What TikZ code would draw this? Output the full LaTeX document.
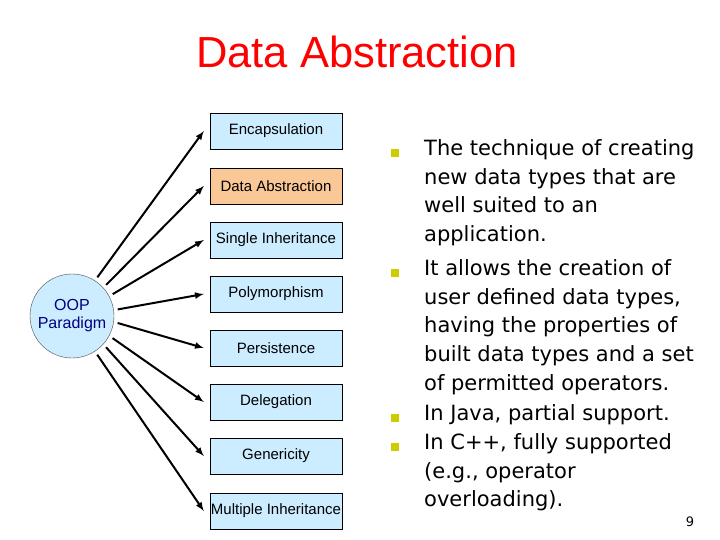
\documentclass[tikz,border=0pt]{standalone}
\usepackage{fontspec}
\setmainfont{Liberation Sans}
\newfontfamily\verd{DejaVu Sans}
\definecolor{bx}{RGB}{204,236,255}
\definecolor{og}{RGB}{250,200,150}
\definecolor{bul}{RGB}{204,204,0}
\begin{document}
\begin{tikzpicture}[x=1pt,y=-1pt,
  box/.style={draw=black,fill=bx,minimum width=132pt,minimum height=36pt,inner sep=0pt,font=\fontsize{15}{17}\selectfont},
  arr/.style={-latex,line width=2pt},
  bl/.style={fill=bul,minimum size=8pt,inner sep=0pt}]
\useasboundingbox (0,0) rectangle (720,540);
\node[text=red,font=\fontsize{43.5}{48}\selectfont] (t) at (357,52) {Data Abstraction};
\node[circle,draw=black!70,fill=bx,minimum size=84pt,inner sep=0pt,text=blue!50!black,align=center,font=\fontsize{16}{18}\selectfont] (c) at (72,316) {OOP\\Paradigm};
\foreach \n/\y/\t/\f in {b1/131/Encapsulation/bx,b2/186/Data Abstraction/og,b3/240/Single Inheritance/bx,b4/294/Polymorphism/bx,b5/348/Persistence/bx,b6/402/Delegation/bx,b7/456/Genericity/bx,b8/511/Multiple Inheritance/bx}
  \node[box,fill=\f] (\n) at (276,\y) {\t};
\foreach \n/\a in {b1/57,b2/42,b3/28,b4/8,b5/-8,b6/-28,b7/-42,b8/-57}
  \draw[arr,shorten <=4pt] (c.\a) -- ([xshift=-6pt]\n.west);
\begin{scope}[every node/.style={anchor=north west,inner sep=0pt,align=left,font=\verd\fontsize{21}{28.9}\selectfont}]
\node (p1) at (424,139) {The technique of creating\\new data types that are\\well suited to an\\application.};
\node (p2) at (424,259) {It allows the creation of\\user defined data types,\\having the properties of\\built data types and a set\\of permitted operators.};
\node (p3) at (424,404) {In Java, partial support.};
\node (p4) at (424,433) {In C++, fully supported\\(e.g., operator\\overloading).};
\end{scope}
\foreach \y [count=\i] in {153,273,418,447} \node[bl] (q\i) at (395,\y) {};
\node[font=\verd\fontsize{13}{15}\selectfont] (pg) at (690,522) {9};
\end{tikzpicture}
\end{document}
